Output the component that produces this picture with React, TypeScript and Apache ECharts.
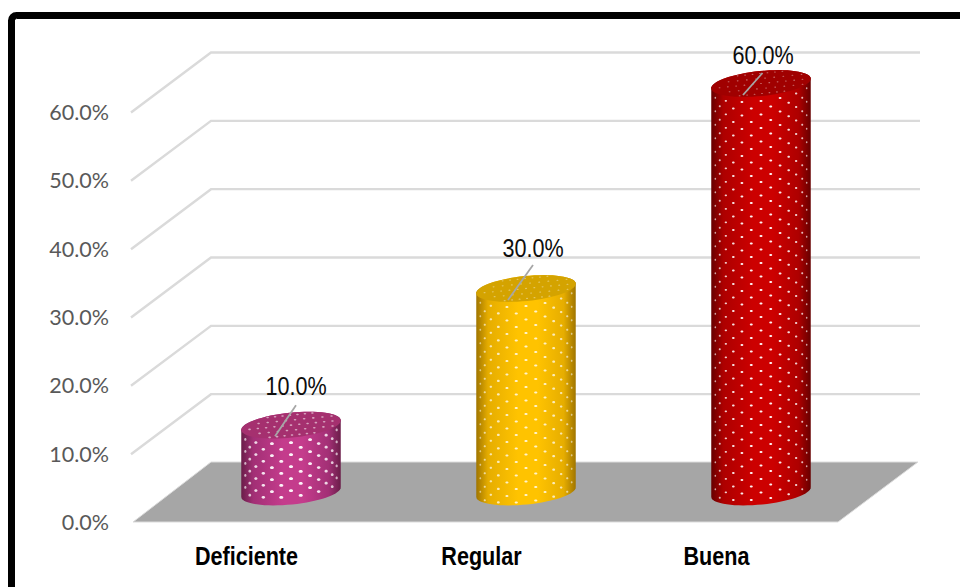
import React, { useEffect, useRef } from "react";
import * as echarts from "echarts";

// ---- data ----
const categories = ["Deficiente", "Regular", "Buena"];
const values = [10, 30, 60];
const yTicks = [0, 10, 20, 30, 40, 50, 60];
const wallLines = [10, 20, 30, 40, 50, 60];
const floorLevel = [0];

// ---- styling, separate from the data ----
const columnStyles = [
  { edge: "#6a1d49", mid: "#a22f75", bright: "#c43c8c", top: "#a5306f", dot: 1.9, rowGap: 12, dotAlpha: 0.95, topAlpha: 0.55,
    leaderFrom: [5, -20], leaderTo: [-16, 11], labelAt: [5, -39] },
  { edge: "#a07500", mid: "#e6ad00", bright: "#ffc300", top: "#d4a300", dot: 1.5, rowGap: 13.5, dotAlpha: 0.8, topAlpha: 0.4,
    leaderFrom: [7, -23.5], leaderTo: [-18, 11.5], labelAt: [7, -41] },
  { edge: "#660000", mid: "#ad0000", bright: "#cc0000", top: "#a00000", dot: 1.35, rowGap: 13.5, dotAlpha: 0.95, topAlpha: 0.45,
    leaderFrom: [1.5, -10.5], leaderTo: [-18, 11.5], labelAt: [2, -28.5] },
];
const NARROW = 0.83;
const NARROW_FONT = '"Liberation Sans", Arial, sans-serif';
const DEPTH_X = 78;
const DEPTH_Y = -60;
const FLOOR_INSET = 4;
const COLUMN_SHIFT_X = 44.5;
const COLUMN_SHIFT_Y = -30;
const TOP_SETTLE = 1.5;
const RX = 50;
const RY = 12.5;
const TILT = (-5.8 * Math.PI) / 180;

function rim(cx: number, cy: number, t: number, a = RX, b = RY) {
  return [
    cx + a * Math.cos(t) * Math.cos(TILT) - b * Math.sin(t) * Math.sin(TILT),
    cy + a * Math.cos(t) * Math.sin(TILT) + b * Math.sin(t) * Math.cos(TILT),
  ];
}

function renderWallLine(params: any, api: any) {
  const cs = params.coordSys;
  const y = api.coord([0, api.value(1)])[1];
  const x0 = cs.x + FLOOR_INSET - 2;
  return {
    type: "polyline",
    shape: {
      points: [
        [x0, y + 0.5],
        [cs.x + FLOOR_INSET + DEPTH_X, y + DEPTH_Y + 0.5],
        [cs.x + cs.width + FLOOR_INSET + 82, y + DEPTH_Y + 0.5],
      ],
    },
    style: { stroke: "#dadada", lineWidth: 2.4, fill: "none" },
  };
}

function renderFloor(params: any, api: any) {
  const cs = params.coordSys;
  const y = api.coord([0, api.value(1)])[1];
  const left = cs.x + FLOOR_INSET;
  const right = cs.x + cs.width + FLOOR_INSET;
  return {
    type: "polygon",
    shape: {
      points: [
        [left, y],
        [left + DEPTH_X, y + DEPTH_Y],
        [right + 80, y + DEPTH_Y],
        [right, y],
      ],
    },
    style: { fill: "#a6a6a6", stroke: "#dcdcdc", lineWidth: 1 },
  };
}

function renderCategoryLabel(params: any, api: any) {
  const i = api.value(0);
  const [x, y] = api.coord([i, 0]);
  return {
    type: "text",
    x,
    y: y + 34,
    scaleX: NARROW,
    style: {
      text: categories[i],
      align: "center",
      verticalAlign: "middle",
      fill: "#000000",
      font: `bold 26px ${NARROW_FONT}`,
    },
  };
}

function renderColumn(params: any, api: any) {
  const i = api.value(0);
  const v = api.value(1);
  const s = columnStyles[i];
  const [px, py] = api.coord([i, v]);
  const base = api.coord([i, 0]);
  const cx = px + COLUMN_SHIFT_X;
  const topY = py + COLUMN_SHIFT_Y + TOP_SETTLE;
  const botY = base[1] + COLUMN_SHIFT_Y;
  const children: any[] = [];

  const side: number[][] = [];
  for (let k = 0; k <= 32; k++) side.push(rim(cx, botY, (Math.PI * k) / 32));
  for (let k = 0; k <= 32; k++) side.push(rim(cx, topY, Math.PI + (Math.PI * k) / 32));
  children.push({
    type: "polygon",
    shape: { points: side },
    style: {
      fill: new echarts.graphic.LinearGradient(0, 0, 1, 0, [
        { offset: 0, color: s.edge },
        { offset: 0.12, color: s.mid },
        { offset: 0.42, color: s.bright },
        { offset: 0.62, color: s.bright },
        { offset: 0.88, color: s.mid },
        { offset: 1, color: s.edge },
      ]),
    },
  });

  // dots wrapped round the side
  for (let c = -6; c <= 6; c++) {
    const theta = c * 0.2;
    const sin = Math.sin(theta);
    const cos = Math.cos(theta);
    const x = cx + RX * 0.98 * sin;
    const dy = RX * sin * Math.tan(TILT) + RY * cos;
    const start = Math.abs(c) % 2 === 0 ? 5 : 5 + s.rowGap / 2;
    for (let h = start; ; h += s.rowGap) {
      const y = topY + dy + h;
      if (y > botY + dy - 2) break;
      children.push({
        type: "ellipse",
        shape: { cx: x, cy: y, rx: s.dot * (0.3 + 0.8 * cos), ry: s.dot * 0.72 },
        style: { fill: "#ffffff", opacity: s.dotAlpha * (0.5 + 0.5 * cos) },
      });
    }
  }

  // top face
  const top: number[][] = [];
  for (let k = 0; k < 64; k++) top.push(rim(cx, topY, (2 * Math.PI * k) / 64));
  children.push({ type: "polygon", shape: { points: top }, style: { fill: s.top } });
  for (let r = -2; r <= 2; r++) {
    const n = r === 0 ? 5 : Math.abs(r) === 1 ? 4 : 3;
    for (let c = -n; c <= n; c++) {
      const u = (c + (r % 2 ? 0.5 : 0)) / (n + 1);
      const w = r / 2.5;
      const lx = RX * u * Math.sqrt(1 - w * w);
      const ly = RY * w;
      children.push({
        type: "ellipse",
        shape: {
          cx: cx + lx * Math.cos(TILT) - ly * Math.sin(TILT),
          cy: topY + lx * Math.sin(TILT) + ly * Math.cos(TILT),
          rx: s.dot * 0.7,
          ry: s.dot * 0.42,
        },
        style: { fill: "#ffffff", opacity: s.topAlpha },
      });
    }
  }

  // leader and value label
  children.push({
    type: "line",
    shape: {
      x1: cx + s.leaderFrom[0],
      y1: topY + s.leaderFrom[1],
      x2: cx + s.leaderTo[0],
      y2: topY + s.leaderTo[1],
    },
    style: { stroke: "#a6a6a6", lineWidth: 1.8 },
  });
  children.push({
    type: "text",
    x: cx + s.labelAt[0],
    y: topY + s.labelAt[1],
    scaleX: NARROW,
    style: {
      text: v.toFixed(1) + "%",
      align: "center",
      verticalAlign: "middle",
      fill: "#0d0d0d",
      font: `26px ${NARROW_FONT}`,
    },
  });
  return { type: "group", children };
}

export default function App() {
  const ref = useRef<HTMLDivElement>(null);
  useEffect(() => {
    document.body.style.margin = "0";
    const chart = echarts.init(ref.current!, undefined, { renderer: "svg" });
    chart.setOption({
      animation: false,
      backgroundColor: "#ffffff",
      grid: { left: 129, right: 126, top: 112, bottom: 65 },
      xAxis: {
        type: "category",
        data: categories,
        axisLine: { show: false },
        axisTick: { show: false },
        axisLabel: { show: false },
      },
      yAxis: {
        type: "value",
        min: 0,
        max: 60,
        interval: 10,
        splitLine: { show: false },
        axisLine: { show: false },
        axisTick: { show: false },
        axisLabel: {
          margin: 20,
          color: "#595959",
          fontFamily: "Lato, sans-serif",
          fontSize: 21.5,
          formatter: (v: number) => (yTicks.includes(v) ? v.toFixed(1) + "%" : ""),
        },
      },
      graphic: [
        {
          type: "rect",
          silent: true,
          shape: { x: 11.5, y: 15.5, width: 990, height: 620, r: 5 },
          style: { fill: "none", stroke: "#000000", lineWidth: 7 },
        },
      ],
      series: [
        { type: "custom", z: 1, silent: true, data: wallLines.map((v) => [0, v]), encode: { x: 0, y: 1 }, renderItem: renderWallLine },
        { type: "custom", z: 2, silent: true, data: floorLevel.map((v) => [0, v]), encode: { x: 0, y: 1 }, renderItem: renderFloor },
        { type: "custom", z: 3, silent: true, data: values.map((v, i) => [i, v]), encode: { x: 0, y: 1 }, renderItem: renderColumn },
        { type: "custom", z: 4, silent: true, data: categories.map((_, i) => [i, 0]), encode: { x: 0, y: 1 }, renderItem: renderCategoryLabel },
      ],
    });
    return () => chart.dispose();
  }, []);
  return <div ref={ref} style={{ width: 960, height: 587 }} />;
}
